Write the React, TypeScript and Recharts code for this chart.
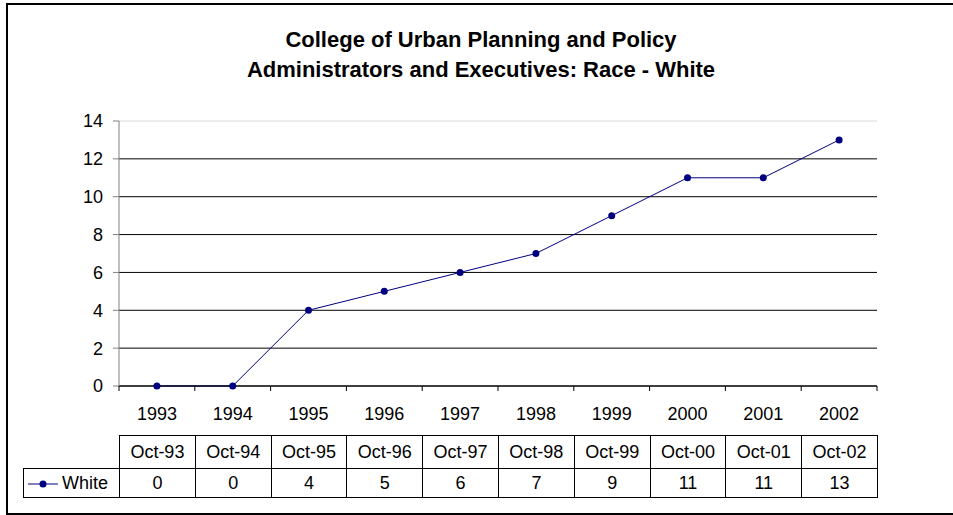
import React from 'react';
import { LineChart, Line, XAxis, YAxis, ReferenceLine } from 'recharts';

const years = ['1993', '1994', '1995', '1996', '1997', '1998', '1999', '2000', '2001', '2002'];
const periods = ['Oct-93', 'Oct-94', 'Oct-95', 'Oct-96', 'Oct-97', 'Oct-98', 'Oct-99', 'Oct-00', 'Oct-01', 'Oct-02'];
const white = [0, 0, 4, 5, 6, 7, 9, 11, 11, 13];
const yTicks = [0, 2, 4, 6, 8, 10, 12, 14];
const xTicks = [0, 1, 2, 3, 4, 5, 6, 7, 8, 9, 10];

const FONT = '"Liberation Sans", Arial, sans-serif';
const NAVY = '#000080';
const FS = 18;

// plot area: x 119..877, y 121..386
const W = 953;
const H = 515;
const margin = { top: 121, right: 76, bottom: 99, left: 79 };
const plotLeft = 119;
const plotRight = W - margin.right;
const band = (plotRight - plotLeft) / years.length;

const data = white.map((v, i) => ({ x: i + 0.5, white: v }));

const XTick = (props: any) => {
  const { x, y, payload } = props;
  const label = years[payload.value];
  return (
    <g>
      <line x1={x} x2={x} y1={y} y2={y + 5} stroke="#000" />
      {label && (
        <text x={x + band / 2} y={y + 34} textAnchor="middle" fontSize={FS} fontFamily={FONT} fill="#000">
          {label}
        </text>
      )}
    </g>
  );
};

const cell: React.CSSProperties = {
  border: '1px solid #000',
  textAlign: 'center',
  padding: 0,
  fontSize: FS,
  fontFamily: FONT,
};

export default function App() {
  return (
    <div
      style={{
        position: 'absolute',
        left: 0,
        top: 0,
        width: W,
        height: H,
        background: '#fff',
        fontFamily: FONT,
        overflow: 'hidden',
      }}
    >
      {/* chart frame, its right edge falls outside the picture */}
      <div
        style={{
          position: 'absolute',
          left: 6,
          top: 3,
          width: 970,
          height: 512,
          border: '2px solid #000',
          boxSizing: 'border-box',
        }}
      />
      <div
        style={{
          position: 'absolute',
          left: 0,
          top: 25,
          width: 962,
          textAlign: 'center',
          fontWeight: 'bold',
          fontSize: 22,
          lineHeight: '30px',
          color: '#000',
        }}
      >
        <div>College of Urban Planning and Policy</div>
        <div>Administrators and Executives: Race - White</div>
      </div>

      <div style={{ position: 'absolute', left: 0, top: 0 }}>
        <LineChart width={W} height={H} data={data} margin={margin}>
          <XAxis
            type="number"
            dataKey="x"
            domain={[0, 10]}
            ticks={xTicks}
            interval={0}
            height={30}
            tickSize={0}
            tickMargin={0}
            axisLine={{ stroke: '#000' }}
            tickLine={false}
            tick={<XTick />}
          />
          <YAxis
            type="number"
            domain={[0, 14]}
            ticks={yTicks}
            interval={0}
            width={40}
            tickSize={6}
            tickMargin={10}
            axisLine={{ stroke: '#808080' }}
            tickLine={{ stroke: '#808080' }}
            tick={{ fontSize: FS, fontFamily: FONT, fill: '#000' }}
          />
          {yTicks.map((v) => (
            <ReferenceLine key={v} y={v} stroke={v === 14 ? '#d9d9d9' : '#000'} strokeWidth={1} />
          ))}
          <Line
            type="linear"
            dataKey="white"
            stroke={NAVY}
            strokeWidth={1}
            dot={{ r: 3.5, fill: NAVY, stroke: NAVY, strokeWidth: 0 }}
            activeDot={false}
            isAnimationActive={false}
          />
        </LineChart>
      </div>

      <table
        style={{
          position: 'absolute',
          left: 23,
          top: 435,
          width: plotRight - 23 + 1,
          borderCollapse: 'collapse',
          tableLayout: 'fixed',
        }}
      >
        <colgroup>
          <col style={{ width: plotLeft - 23 }} />
          {periods.map((p) => (
            <col key={p} style={{ width: band }} />
          ))}
        </colgroup>
        <tbody>
          <tr style={{ height: 33 }}>
            <td style={{ ...cell, borderTop: 'none', borderLeft: 'none' }} />
            {periods.map((p) => (
              <td key={p} style={cell}>
                {p}
              </td>
            ))}
          </tr>
          <tr style={{ height: 29 }}>
            <td style={{ ...cell, textAlign: 'left', whiteSpace: 'nowrap' }}>
              <svg width={32} height={12} style={{ verticalAlign: 'middle', marginLeft: 4 }}>
                <line x1={0} x2={30} y1={6} y2={6} stroke={NAVY} strokeWidth={1} />
                <circle cx={15} cy={6} r={3.5} fill={NAVY} />
              </svg>
              <span style={{ marginLeft: 2 }}>White</span>
            </td>
            {white.map((v, i) => (
              <td key={periods[i]} style={cell}>
                {v}
              </td>
            ))}
          </tr>
        </tbody>
      </table>
    </div>
  );
}
